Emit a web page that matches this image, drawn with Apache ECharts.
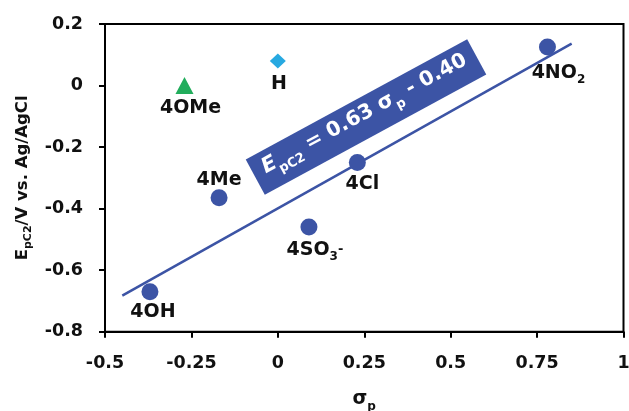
<!DOCTYPE html>
<html>
<head>
<meta charset="utf-8">
<script src="https://cdn.jsdelivr.net/npm/echarts@6/dist/echarts.min.js"></script>
<style>
html,body{margin:0;padding:0;background:#fff;}
#c{width:629px;height:411px;}
</style>
</head>
<body>
<div id="c"></div>
<script>
// ---- data ----
const fitNames = ['4OH', '4Me', '4SO3-', '4Cl', '4NO2'];
const fitSigma = [-0.37, -0.17, 0.09, 0.23, 0.78];
const fitE = [-0.67, -0.365, -0.46, -0.25, 0.125];
const omeNames = ['4OMe'];
const omeSigma = [-0.27];
const omeE = [0.0];
const hNames = ['H'];
const hSigma = [0.0];
const hE = [0.08];
const trendSigma = [-0.45, 0.85];
const trendE = [-0.683, 0.136];
const xTicks = {min: -0.5, max: 1, interval: 0.25};
const yTicks = {min: -0.8, max: 0.2, interval: 0.2};

// ---- styles ----
const FONT = 'DejaVu Sans';
const BLUE = '#3C54A5';
const GREEN = '#22AD5C';
const CYAN = '#27A9E1';
const labelOffset = {'4OH':[3,24], '4Me':[0,-14], '4SO3-':[6,26], '4Cl':[5,25], '4NO2':[11,29], '4OMe':[6,26], 'H':[1,27]};
const labelText = {'4SO3-':'{m|4SO}{sub|3}{sup|-}', '4NO2':'{m|4NO}{sub|2}'};
const labelRich = {
  m: {fontFamily: FONT, fontWeight: 'bold', fontSize: 19, color: '#111', lineHeight: 20, verticalAlign: 'bottom', padding: [0,0,4,0]},
  sub: {fontFamily: FONT, fontWeight: 'bold', fontSize: 12, color: '#111', lineHeight: 12, verticalAlign: 'bottom'},
  sup: {fontFamily: FONT, fontWeight: 'bold', fontSize: 13, color: '#111', lineHeight: 13, verticalAlign: 'top'}
};

function pts(names, xs, ys) {
  return names.map((n, i) => ({
    name: n,
    value: [xs[i], ys[i]],
    label: {
      show: true, position: 'inside', offset: labelOffset[n],
      formatter: labelText[n] || ('{m|' + n + '}'),
      rich: labelRich, color: '#111'
    }
  }));
}

const chart = echarts.init(document.getElementById('c'));
chart.setOption({
  animation: false,
  grid: {left: 105, right: 5.5, top: 24, bottom: 79.3, outerBoundsMode: 'none', containLabel: false,
         show: true, borderColor: '#000', borderWidth: 2, backgroundColor: 'transparent'},
  xAxis: {
    type: 'value', min: xTicks.min, max: xTicks.max, interval: xTicks.interval,
    splitLine: {show: false},
    axisLine: {show: true, onZero: false, lineStyle: {color: '#000', width: 2}},
    axisTick: {show: true, length: 6, lineStyle: {color: '#000', width: 2}},
    axisLabel: {color: '#111', fontFamily: FONT, fontWeight: 'bold', fontSize: 17.5, margin: 23, showMaxLabel: true, showMinLabel: true},
    name: '{s|σ}{sub|p}', nameLocation: 'middle', nameGap: 61,
    nameTextStyle: {rich: {
      s: {fontFamily: FONT, fontWeight: 'bold', fontSize: 19, color: '#111', lineHeight: 20, verticalAlign: 'bottom', padding: [0,0,4,0]},
      sub: {fontFamily: FONT, fontWeight: 'bold', fontSize: 12, color: '#111', lineHeight: 12, verticalAlign: 'bottom'}
    }}
  },
  yAxis: {
    type: 'value', min: yTicks.min, max: yTicks.max, interval: yTicks.interval,
    splitLine: {show: false},
    axisLine: {show: true, onZero: false, lineStyle: {color: '#000', width: 2}},
    axisTick: {show: true, length: 6, lineStyle: {color: '#000', width: 2}},
    axisLabel: {color: '#111', fontFamily: FONT, fontWeight: 'bold', fontSize: 17.5, margin: 22, showMaxLabel: true, showMinLabel: true},
    name: '{m|E}{sub|pC2}{m|/V vs. Ag/AgCl}', nameLocation: 'middle', nameGap: 71,
    nameTextStyle: {rich: {
      m: {fontFamily: FONT, fontWeight: 'bold', fontSize: 16.5, color: '#111', lineHeight: 17, verticalAlign: 'bottom', padding: [0,0,3,0]},
      sub: {fontFamily: FONT, fontWeight: 'bold', fontSize: 11, color: '#111', lineHeight: 11, verticalAlign: 'bottom'}
    }}
  },
  series: [
    {
      type: 'line', data: trendSigma.map((x, i) => [x, trendE[i]]),
      showSymbol: false, symbol: 'none', lineStyle: {color: BLUE, width: 2.5}, z: 2, silent: true
    },
    {
      type: 'scatter', data: pts(fitNames, fitSigma, fitE), symbol: 'circle', symbolSize: 17,
      itemStyle: {color: BLUE, opacity: 1}, z: 3
    },
    {
      type: 'scatter', data: pts(omeNames, omeSigma, omeE), symbol: 'triangle', symbolSize: [18, 17],
      itemStyle: {color: GREEN, opacity: 1}, z: 3
    },
    {
      type: 'scatter', data: pts(hNames, hSigma, hE), symbol: 'diamond', symbolSize: [16, 15],
      itemStyle: {color: CYAN, opacity: 1}, z: 3
    }
  ],
  graphic: [{
    type: 'group', x: 366, y: 117, rotation: 28.5 * Math.PI / 180, z: 100,
    children: [
      {type: 'rect', shape: {x: -126, y: -20, width: 252, height: 40}, style: {fill: BLUE}},
      {type: 'text', x: 0, y: 1, style: {
        text: '{e|E}{s|pC2}{m| = 0.63 σ}{s|p}{m| - 0.40}',
        align: 'center', verticalAlign: 'middle', fill: '#fff',
        rich: {
          e: {fontFamily: FONT, fontWeight: 'bold', fontStyle: 'italic', fontSize: 21, fill: '#fff', lineHeight: 22, verticalAlign: 'bottom', padding: [0,0,5,0]},
          m: {fontFamily: FONT, fontWeight: 'bold', fontSize: 20.5, fill: '#fff', lineHeight: 22, verticalAlign: 'bottom', padding: [0,0,5,0]},
          s: {fontFamily: FONT, fontWeight: 'bold', fontSize: 13, fill: '#fff', lineHeight: 13, verticalAlign: 'bottom'}
        }
      }}
    ]
  }]
});
</script>
</body>
</html>
